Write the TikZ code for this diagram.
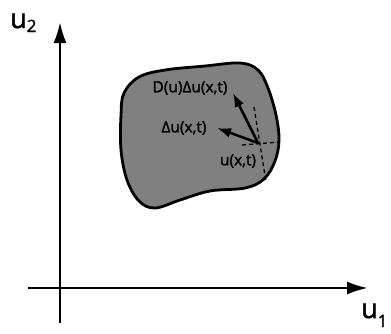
\documentclass[tikz,border=0pt]{standalone}
\usepackage{fontspec}
\setmainfont[FakeBold=1.2]{Open Sans}
\newfontfamily\lblfont[FakeBold=1.6]{Open Sans}
\newfontfamily\axfont[FakeBold=1.8]{Open Sans}
\usetikzlibrary{arrows.meta}
\definecolor{blobgray}{RGB}{128,128,128}
\tikzset{
  axis/.style={line width=2.5pt,-{Latex[length=21pt,width=13pt]}},
  vec/.style={line width=2.5pt,-{Latex[length=14pt,width=10pt]}},
  guide/.style={line width=1.3pt,dash pattern=on 4pt off 3pt},
  lbl/.style={inner sep=0pt,font=\lblfont\fontsize{15.5}{16}\selectfont},
  axlbl/.style={inner sep=0pt,font=\axfont\fontsize{27}{28}\selectfont},
}
\newcommand{\axsub}[2]{{\fontsize{17}{17}\selectfont\raisebox{-#1pt}{#2}}}
\begin{document}
\begin{tikzpicture}[x=1pt,y=-1pt]
\useasboundingbox (0,0) rectangle (391,333);
% blob
\draw[line width=2.8pt,fill=blobgray] plot[smooth cycle,tension=0.6] coordinates {
 (124,93) (139,77) (165,70) (205,66) (240,63) (258,70) (268,88) (276,115)
 (279,140) (275,161) (264,179) (245,188) (210,191) (180,200) (155,208)
 (139,201) (127,180) (121,150) (121,115)};
% axes
\coordinate (yb) at (60,323);
\coordinate (yt) at (60,22);
\coordinate (xl) at (28,288);
\coordinate (xr) at (368,288);
\draw[axis] (yb) -- (yt);
\draw[axis] (xl) -- (xr);
\node[axlbl,anchor=base west] (u2) at (10,28) {u\axsub{4}{2}};
\node[axlbl,anchor=base west] (u1) at (361,318) {u\axsub{9}{1}};
% guide lines
\coordinate (p) at (258,143);
\coordinate (hl) at (242,145);
\coordinate (hr) at (279,142);
\coordinate (vt) at (254,107);
\coordinate (vb) at (266,182);
\draw[guide] (hl) -- (hr);
\draw[guide] (vt) -- (vb);
% vectors
\coordinate (t1) at (217,128);
\coordinate (t2) at (233,93);
\draw[vec] (p) -- (t1);
\draw[vec] (p) -- (t2);
\node[lbl] (l2) at (190,88) {D(u)Δu(x,t)};
\node[lbl] (l1) at (184,128) {Δu(x,t)};
\node[lbl] (l0) at (238,161) {u(x,t)};
\end{tikzpicture}
\end{document}
